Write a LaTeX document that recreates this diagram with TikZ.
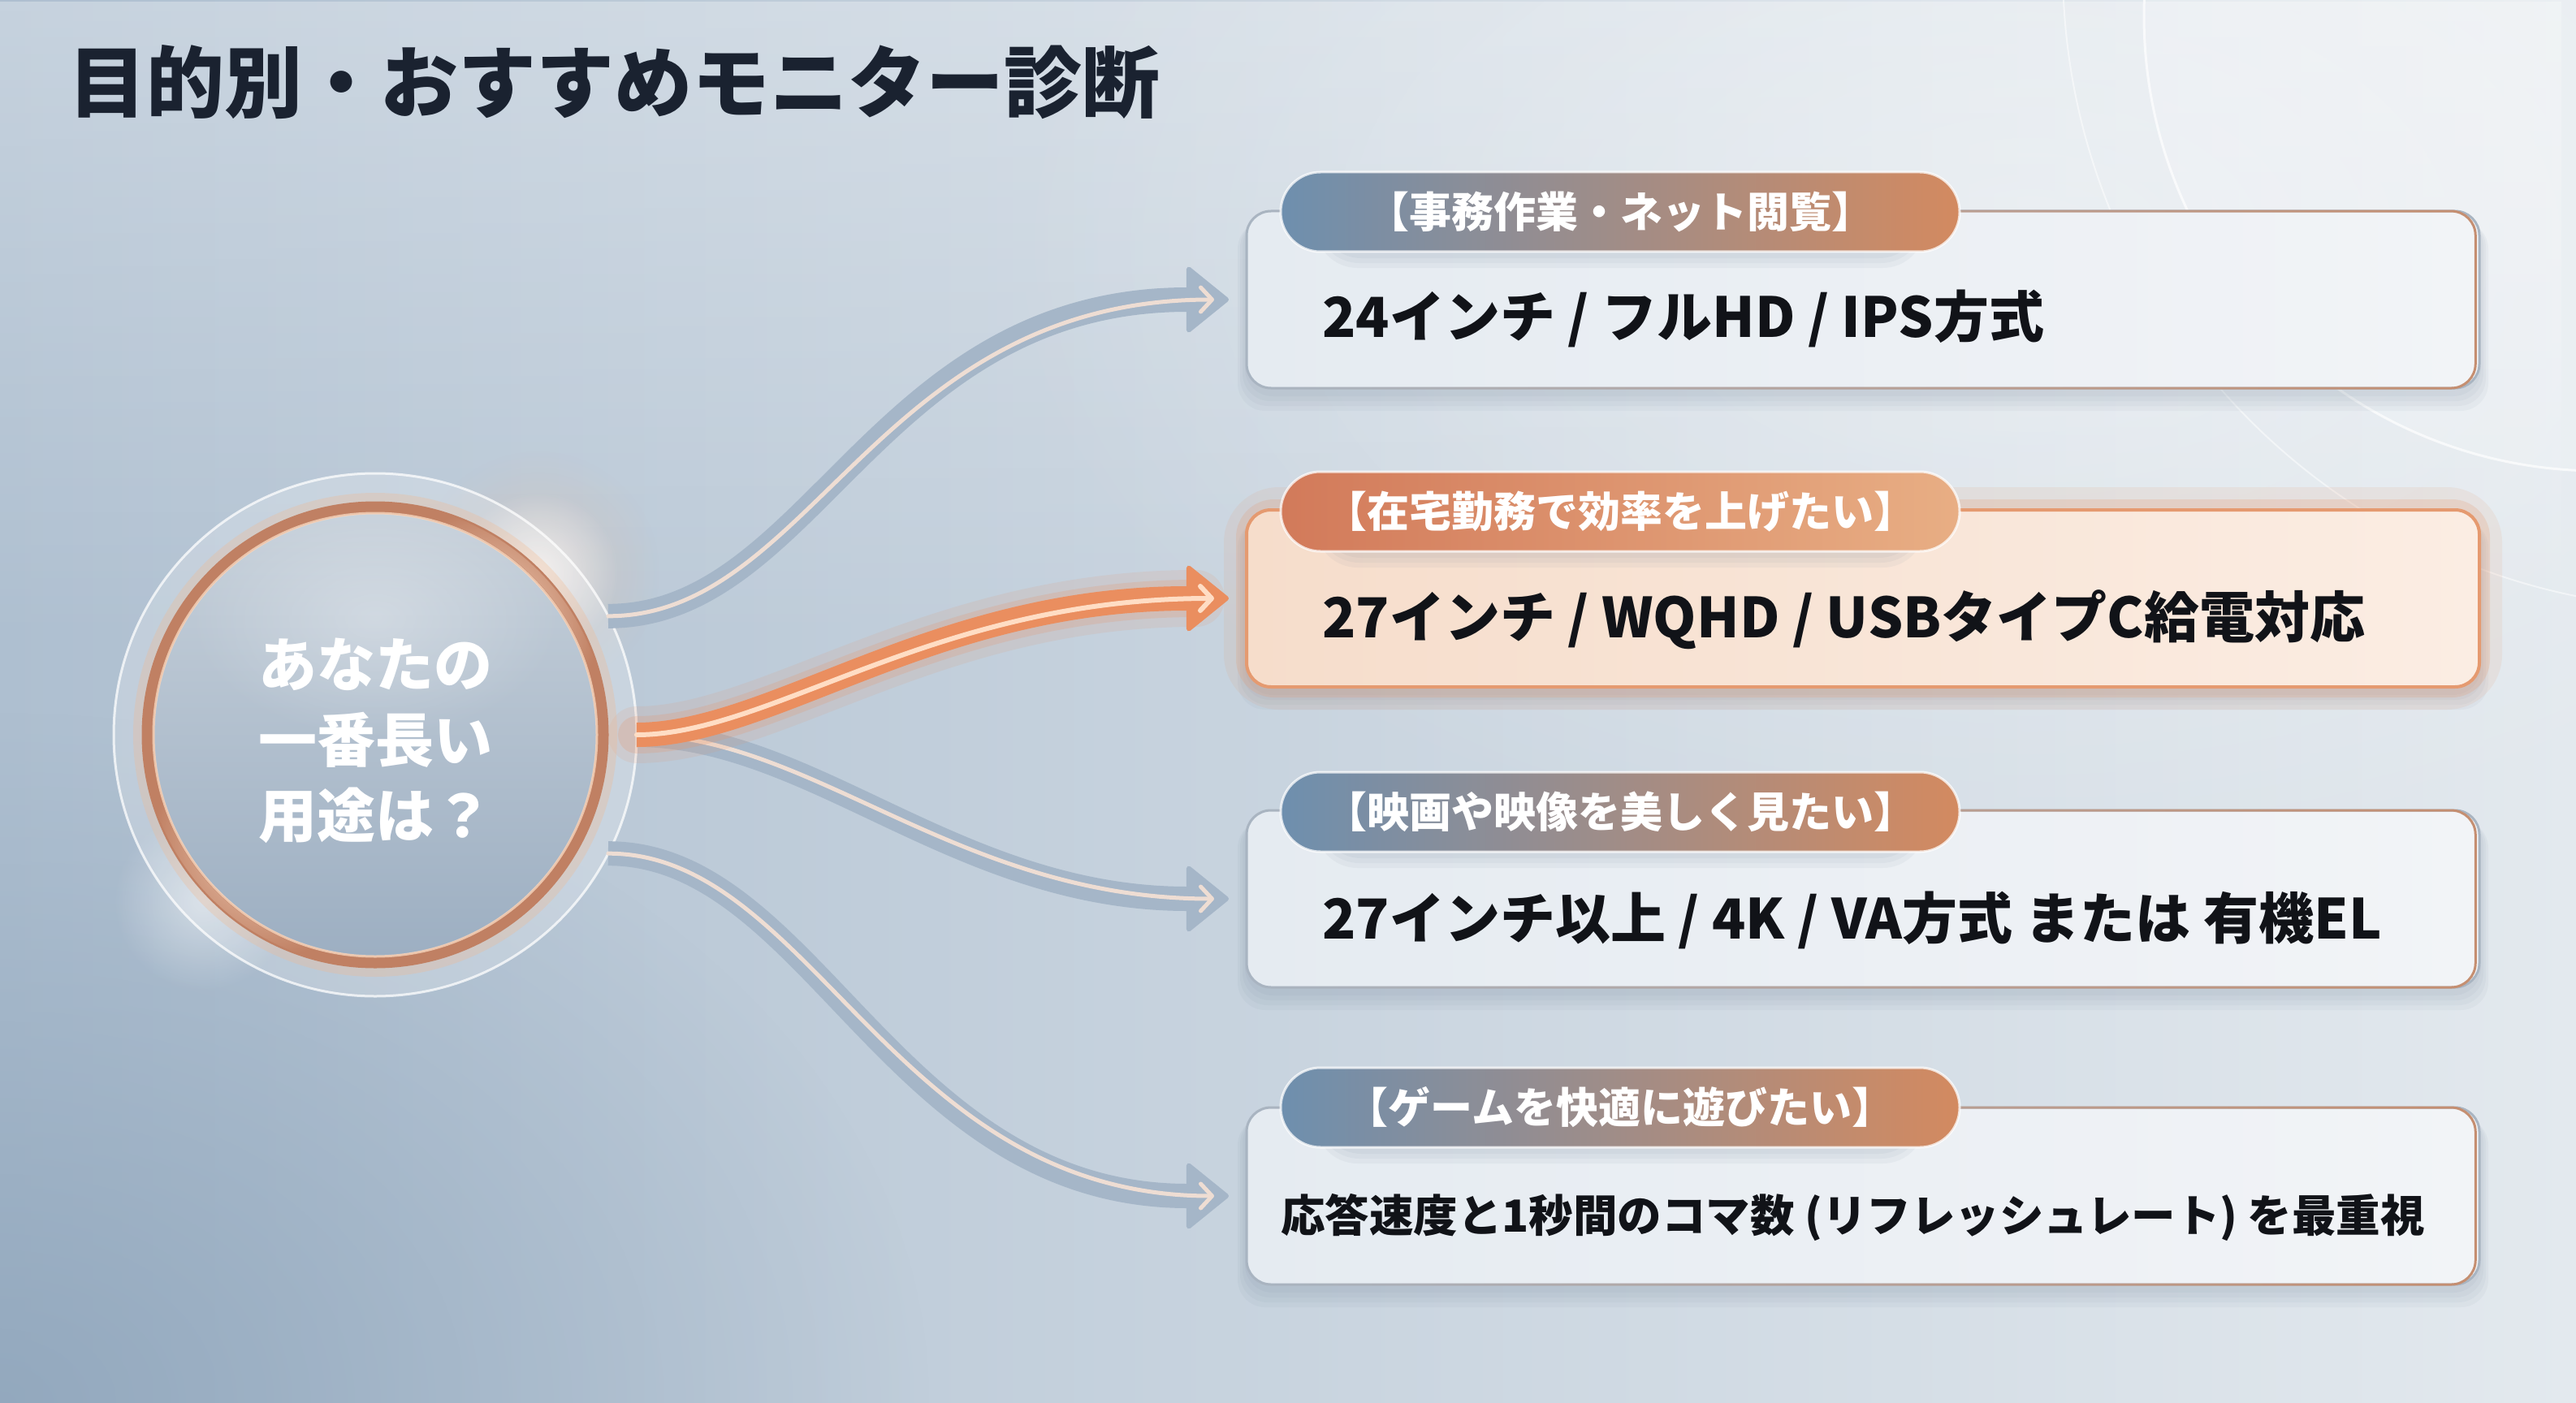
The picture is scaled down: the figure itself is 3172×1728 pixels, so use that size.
\documentclass[tikz,border=0pt]{standalone}
\usepackage{fontspec}
\setmainfont{Noto Sans CJK JP}
\usetikzlibrary{arrows.meta,fadings,shapes.misc}

\definecolor{bgL}{HTML}{AEBFD0}
\definecolor{bgR}{HTML}{E3E9EE}
\definecolor{bgD}{HTML}{8AA1B8}
\definecolor{titlec}{HTML}{1A2230}
\definecolor{arrowc}{HTML}{A5B6C8}
\definecolor{arrowin}{HTML}{EEDDD3}
\definecolor{orangec}{HTML}{EA8E5F}
\definecolor{orangein}{HTML}{FFDDC4}
\definecolor{ringc}{HTML}{C08063}
\definecolor{ringglow}{HTML}{F3B98F}
\definecolor{discT}{HTML}{C6D0DA}
\definecolor{discB}{HTML}{9DAFC2}
\definecolor{cardL}{HTML}{E5EBF1}
\definecolor{cardR}{HTML}{F2F4F7}
\definecolor{cardline}{HTML}{A9B5C2}
\definecolor{cardcopper}{HTML}{C58E70}
\definecolor{peachL}{HTML}{F6DDCB}
\definecolor{peachR}{HTML}{FBEDE3}
\definecolor{peachline}{HTML}{E59A70}
\definecolor{steel}{HTML}{6E8FAE}
\definecolor{copper}{HTML}{D38A60}
\definecolor{salmonL}{HTML}{D27A5A}
\definecolor{salmonR}{HTML}{E8AE84}
\definecolor{shadowc}{HTML}{5E728A}
\definecolor{textc}{HTML}{111318}

\tikzfading[name=glowfade, inner color=transparent!0, outer color=transparent!100]
\tikzfading[name=toright, left color=transparent!100, right color=transparent!0]
\tikzfading[name=topfade, top color=transparent!0, bottom color=transparent!100]

\pgfdeclarelayer{bg}
\pgfdeclarelayer{mid}
\pgfdeclarelayer{top}
\pgfsetlayers{bg,mid,main,top}

\begin{document}
\begin{tikzpicture}[x=1pt,y=-1pt,
  glass/.style={circle, minimum size=644pt, inner sep=0pt, outer sep=0pt, fill=white, fill opacity=0.22, draw=white, draw opacity=0.75, line width=3pt},
  card/.style={rectangle, rounded corners=30pt, minimum width=1518pt, minimum height=218pt, inner sep=0pt, outer sep=0pt, left color=cardL, right color=cardR, draw=cardline, line width=3pt},
  hotcard/.style={card, left color=peachL, right color=peachR, draw=peachline, line width=4pt},
  tab/.style={rounded rectangle, minimum width=836pt, minimum height=98pt, inner sep=0pt, outer sep=0pt, left color=steel, right color=copper, draw=white, draw opacity=0.75, line width=3pt, text=white, font={\fontsize{52}{60}\selectfont\bfseries}},
  hottab/.style={tab, left color=salmonL, right color=salmonR},
  body/.style={anchor=west, inner sep=0pt, text=textc, font={\fontsize{68}{78}\selectfont\bfseries}},
  flow/.style={line width=30pt, draw=arrowc, -{Triangle[length=54pt,width=86pt,line width=6pt,round]}},
  hotflow/.style={flow, draw=orangec},
  flowcore/.style={line width=5pt, draw=arrowin, line cap=round, shorten >=18pt, -{Straight Barb[length=14pt,width=30pt,round]}},
  hotcore/.style={flowcore, line width=6pt, draw=orangein},
  boxshadow/.style={shadowc, opacity=0.05, rounded corners=34pt}
]
\useasboundingbox (0,0) rectangle (3172,1728);

% ---------- background ----------
\begin{pgfonlayer}{bg}
\shade[left color=bgL, right color=bgR] (0,0) rectangle (3172,1728);
\fill[white, opacity=0.3, path fading=topfade] (0,0) rectangle (3172,800);
\fill[bgD, opacity=0.75, path fading=glowfade] (0,1728) ellipse (1150 and 850);
\fill[white, opacity=0.35, path fading=glowfade] (2500,300) ellipse (1300 and 800);
% decorative glass circles top right
\fill[white, opacity=0.16] (3200,20) circle (560);
\draw[white, opacity=0.7, line width=3pt] (3200,20) circle (560);
\draw[white, opacity=0.5, line width=2pt] (3330,-40) circle (790);
% glows around the central circle
\fill[ringglow, opacity=0.3, path fading=glowfade] (662,705) circle (150);
\fill[white, opacity=0.7, path fading=glowfade] (662,705) circle (100);
\fill[white, opacity=0.45, path fading=glowfade] (250,1110) circle (110);
\end{pgfonlayer}

% ---------- title ----------
\node[anchor=west, inner sep=0pt, text=titlec, font={\fontsize{96}{110}\selectfont\bfseries}] (title) at (84,101) {目的別・おすすめモニター診断};

% ---------- centre glass disc ----------
\node[glass] (q) at (462,905) {};

% ---------- cards ----------
\node[card] (b1) at (2294,369) {};
\node[hotcard] (b2) at (2294,737) {};
\node[card] (b3) at (2294,1107) {};
\node[card] (b4) at (2294,1473) {};

\foreach \b in {b1,b3,b4} {
  \draw[cardcopper, line width=3pt, rounded corners=30pt, path fading=toright] (\b.north west) rectangle (\b.south east);
}

\begin{pgfonlayer}{mid}
\foreach \b in {b1,b2,b3,b4} {
  \foreach \s in {4,10,16,22} {
    \fill[boxshadow] ([shift={(-0.5*\s,6+0.3*\s)}]\b.north west) rectangle ([shift={(0.5*\s,6+\s)}]\b.south east);
  }
}
\draw[peachline, opacity=0.12, line width=56pt, rounded corners=40pt] (b2.north west) rectangle (b2.south east);
\draw[peachline, opacity=0.22, line width=26pt, rounded corners=34pt] (b2.north west) rectangle (b2.south east);
\end{pgfonlayer}

% ---------- tabs ----------
\begin{pgfonlayer}{top}
\node[tab] (t1) at (1995,261) {【事務作業・ネット閲覧】};
\node[hottab] (t2) at (1995,630) {【在宅勤務で効率を上げたい】};
\node[tab] (t3) at (1995,1000) {【映画や映像を美しく見たい】};
\node[tab] (t4) at (1995,1364) {【ゲームを快適に遊びたい】};
\end{pgfonlayer}
\foreach \t in {t1,t2,t3,t4} {
  \foreach \s in {4,10,16} {
    \fill[shadowc, opacity=0.06, rounded corners=52pt] ([shift={(-0.4*\s,4+0.3*\s)}]\t.north west) rectangle ([shift={(0.4*\s,4+\s)}]\t.south east);
  }
}

% ---------- card texts ----------
\node[body] (x1) at (1628,392) {24インチ / フルHD / IPS方式};
\node[body] (x2) at (1628,763) {27インチ / WQHD / USBタイプC給電対応};
\node[body] (x3) at (1628,1133) {27インチ以上 / 4K / VA方式 または 有機EL};
\node[body, font={\fontsize{54.5}{62}\selectfont\bfseries}] (x4) at (1577,1500) {応答速度と1秒間のコマ数 (リフレッシュレート) を最重視};

% ---------- connectors ----------
\draw[flow] (q.27) .. controls (1000,759) and (1080,369) .. ([xshift=-22pt]b1.west);
\draw[flowcore] (q.27) .. controls (1000,759) and (1080,369) .. ([xshift=-22pt]b1.west);
\draw[flow] (q.east) .. controls (1000,905) and (1180,1107) .. ([xshift=-22pt]b3.west);
\draw[flowcore] (q.east) .. controls (1000,905) and (1180,1107) .. ([xshift=-22pt]b3.west);
\draw[flow] (q.-27) .. controls (1000,1051) and (1100,1473) .. ([xshift=-22pt]b4.west);
\draw[flowcore] (q.-27) .. controls (1000,1051) and (1100,1473) .. ([xshift=-22pt]b4.west);
% highlighted path
\draw[orangec, opacity=0.12, line width=70pt, line cap=round, shorten >=40pt] (q.east) .. controls (950,905) and (1150,737) .. ([xshift=-22pt]b2.west);
\draw[orangec, opacity=0.2, line width=46pt, line cap=round, shorten >=40pt] (q.east) .. controls (950,905) and (1150,737) .. ([xshift=-22pt]b2.west);
\draw[hotflow] (q.east) .. controls (950,905) and (1150,737) .. ([xshift=-22pt]b2.west);
\draw[hotcore] (q.east) .. controls (950,905) and (1150,737) .. ([xshift=-22pt]b2.west);

% ---------- centre ring, disc, question ----------
\draw[ringglow, opacity=0.3, line width=36pt] (q.center) circle (280);
\shade[top color=discT, bottom color=discB] (q.center) circle (272);
\fill[white, opacity=0.3, path fading=glowfade] (462,760) ellipse (230 and 150);
\draw[ringc, line width=15pt] (q.center) circle (280);
\draw[white!40!ringglow, line width=3pt, opacity=0.8] (q.center) circle (273);
\draw[white!50!ringglow, line width=10pt, line cap=round, opacity=0.95, path fading=glowfade] (q.center) ++(-15:280) arc[start angle=-15, end angle=-75, radius=280];
\draw[white!50!ringglow, line width=10pt, line cap=round, opacity=0.85, path fading=glowfade] (q.center) ++(-195:280) arc[start angle=-195, end angle=-255, radius=280];
\node[align=center, text=white, inner sep=0pt, font={\fontsize{72}{93}\selectfont\bfseries}] (qt) at (462,912) {あなたの\\一番長い\\用途は？};

\end{tikzpicture}
\end{document}
